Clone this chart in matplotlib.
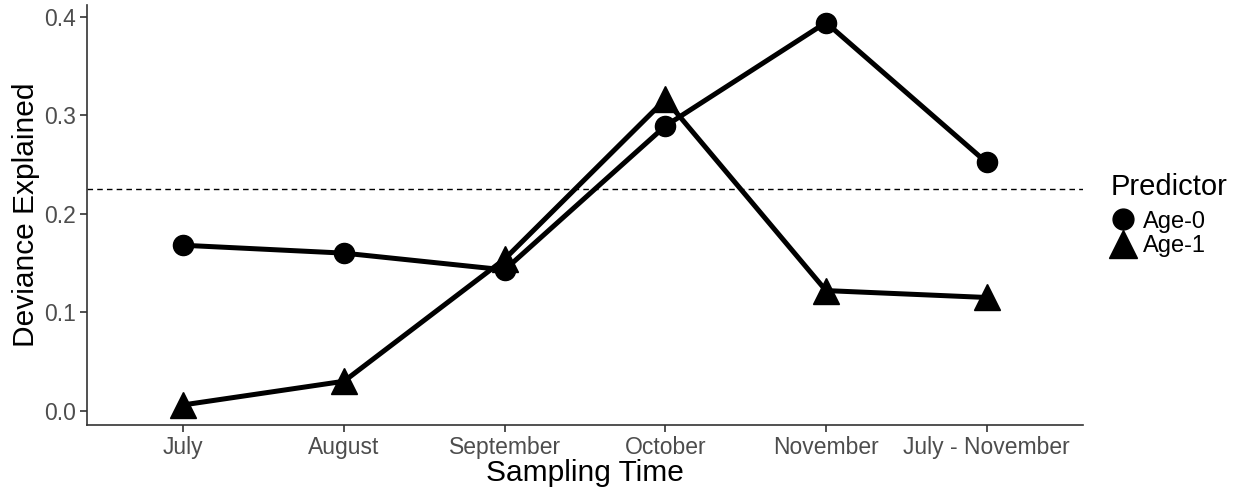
import matplotlib
matplotlib.use("Agg")
import matplotlib.pyplot as plt
from matplotlib.lines import Line2D

plt.rcParams['font.family'] = ['Liberation Sans', 'DejaVu Sans']

months = ["July", "August", "September", "October", "November", "July - November"]
age0 = [0.168, 0.160, 0.143, 0.289, 0.394, 0.252]
age1 = [0.006, 0.030, 0.154, 0.316, 0.122, 0.115]
threshold = 0.225
yticks = [0.0, 0.1, 0.2, 0.3, 0.4]

fig = plt.figure(figsize=(12.41, 4.92), dpi=100)
ax = fig.add_axes([87 / 1241, 1 - 425 / 492, (1083 - 87) / 1241, (425 - 5) / 492])

x = list(range(len(months)))
ax.axhline(threshold, color="black", linestyle=(0, (4, 3)), linewidth=1.0, zorder=1)
ax.plot(x, age0, color="black", linewidth=3.6, marker="o", markersize=14.5,
        solid_capstyle="butt", zorder=3)
ax.plot(x, age1, color="black", linewidth=3.6, marker="^", markersize=19,
        solid_capstyle="butt", zorder=3)

ax.set_xlim(-0.6, len(months) - 1 + 0.6)
ax.set_ylim(-0.0144, 0.4118)
ax.set_xticks(x)
ax.set_xticklabels(months)
ax.set_yticks(yticks)
ax.set_yticklabels([f"{v:.1f}" for v in yticks])

for side in ["top", "right"]:
    ax.spines[side].set_visible(False)
for side in ["left", "bottom"]:
    ax.spines[side].set_linewidth(1.2)
    ax.spines[side].set_color("#333333")
ax.tick_params(axis="both", colors="#333333", labelcolor="#4D4D4D", labelsize=16.5,
               length=5, width=1.2, pad=3)

ax.set_xlabel("Sampling Time", fontsize=21.5, labelpad=0)
ax.set_ylabel("Deviance Explained", fontsize=21.5, labelpad=3)

handles = [
    Line2D([], [], color="black", marker="o", markersize=15, linestyle="none"),
    Line2D([], [], color="black", marker="^", markersize=20, linestyle="none"),
]
leg = fig.legend(handles, ["Age-0", "Age-1"], title="Predictor",
                 loc="upper left", bbox_to_anchor=(1111 / 1241, 1 - 173 / 492),
                 frameon=False, fontsize=17, title_fontsize=21,
                 handletextpad=0.35, handlelength=1.0, labelspacing=0.1,
                 borderaxespad=0, borderpad=0)
leg._legend_box.align = "left"
leg._legend_box.sep = 7

fig.savefig("out.png", dpi=100)
